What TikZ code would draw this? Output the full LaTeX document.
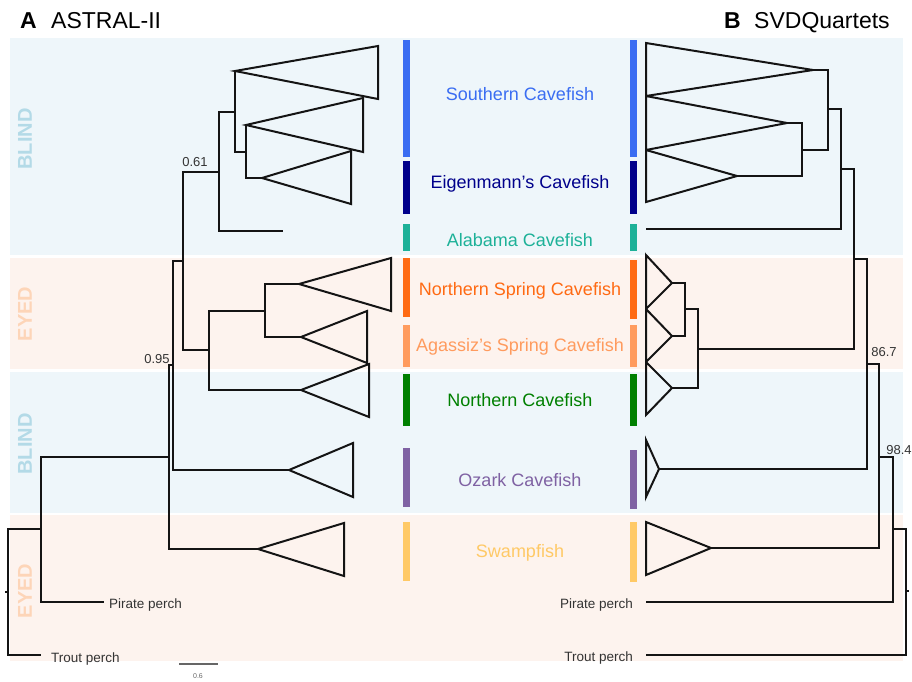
\documentclass[tikz,border=0pt]{standalone}
\usepackage{fontspec}
\setmainfont{Liberation Sans}
\definecolor{bandblue}{HTML}{EEF6FA}
\definecolor{bandpeach}{HTML}{FDF3EE}
\definecolor{blindc}{HTML}{B3DAE7}
\definecolor{eyedc}{HTML}{FDD5B8}
\definecolor{csouth}{HTML}{3A6DF2}
\definecolor{ceigen}{HTML}{00008B}
\definecolor{cala}{HTML}{1DB198}
\definecolor{cns}{HTML}{FF6A13}
\definecolor{cagas}{HTML}{FF9B5E}
\definecolor{cnorth}{HTML}{008000}
\definecolor{cozark}{HTML}{7F62A3}
\definecolor{cswamp}{HTML}{FFC966}
\definecolor{txtgray}{HTML}{333333}
\begin{document}
\begin{tikzpicture}[x=1pt,y=-1pt,
  tree/.style={line width=2pt, draw=black!92, line join=miter},
  sidelab/.style={rotate=90, font=\fontsize{20}{22}\selectfont\bfseries, inner sep=0pt},
  cladelab/.style={font=\fontsize{18}{20}\selectfont, inner sep=0pt},
  taxlab/.style={font=\fontsize{13.5}{15}\selectfont, text=txtgray, inner sep=0pt},
  supp/.style={font=\fontsize{13}{15}\selectfont, text=txtgray, inner sep=0pt},
  titlelab/.style={font=\fontsize{23}{26}\selectfont, inner sep=0pt, anchor=base west}]
\path[use as bounding box] (0,0) rectangle (912,681);
% background bands
\fill[bandblue] (10,38) rectangle (903,255);
\fill[bandpeach] (10,258) rectangle (903,369);
\fill[bandblue] (10,372) rectangle (903,513);
\fill[bandpeach] (10,515) rectangle (903,661);
% side labels
\node[sidelab, text=blindc] (sl1) at (25,139) {BLIND};
\node[sidelab, text=eyedc] (sl2) at (25,314) {EYED};
\node[sidelab, text=blindc] (sl3) at (25,444) {BLIND};
\node[sidelab, text=eyedc] (sl4) at (25,591) {EYED};
% titles
\node[titlelab, font=\fontsize{23}{26}\selectfont\bfseries] (tA) at (20,28) {A};
\node[titlelab] (tAn) at (51,28) {ASTRAL-II};
\node[titlelab, font=\fontsize{23}{26}\selectfont\bfseries] (tB) at (724,28) {B};
\node[titlelab] (tBn) at (754,28) {SVDQuartets};
% colour bars
\foreach \ya/\yb/\yc/\yd/\col in {40/157/40/157/csouth, 161/214/161/214/ceigen, 224/251/224/251/cala, 258/317/260/319/cns, 325/367/325/367/cagas, 374/426/374/426/cnorth, 448/507/450/509/cozark, 522/581/522/582/cswamp}{
  \fill[\col] (403,\ya) rectangle (410,\yb);
  \fill[\col] (630,\yc) rectangle (637,\yd);
}
% clade labels
\node[cladelab, text=csouth] (c1) at (520,94.5) {Southern Cavefish};
\node[cladelab, text=ceigen] (c2) at (520,183.5) {Eigenmann’s Cavefish};
\node[cladelab, text=cala] (c3) at (520,240.5) {Alabama Cavefish};
\node[cladelab, text=cns] (c4) at (520,290.5) {Northern Spring Cavefish};
\node[cladelab, text=cagas] (c5) at (520,346.5) {Agassiz’s Spring Cavefish};
\node[cladelab, text=cnorth] (c6) at (520,400) {Northern Cavefish};
\node[cladelab, text=cozark] (c7) at (520,480) {Ozark Cavefish};
\node[cladelab, text=cswamp] (c8) at (520,552.5) {Swampfish};

% ---------- left tree (ASTRAL-II) ----------
\coordinate (LT1) at (235,71);
\coordinate (LT2) at (246,125);
\coordinate (LT3) at (262,178);
\coordinate (LAla) at (283,231);
\coordinate (LNS) at (299,284);
\coordinate (LAg) at (301,337);
\coordinate (LNo) at (301,390);
\coordinate (LOz) at (289,470);
\coordinate (LSw) at (258,549);
\coordinate (LPir) at (104,602);
\coordinate (LTro) at (41,655);
\coordinate (a23) at (246,152);
\coordinate (a123) at (235,112);
\coordinate (aS) at (219,172);
\coordinate (aNS) at (265,311);
\coordinate (aN) at (209,350);
\coordinate (aX) at (183,261);
\coordinate (aY) at (173,365);
\coordinate (aZ) at (169,457);
\coordinate (aW) at (41,529);
\coordinate (aR) at (8,592);
\draw[tree] (LT1) -- (378,46) -- (378,99) -- cycle;
\draw[tree] (LT2) -- (363,98) -- (363,152) -- cycle;
\draw[tree] (LT3) -- (351,151) -- (351,204) -- cycle;
\draw[tree] (LNS) -- (391,258) -- (391,311) -- cycle;
\draw[tree] (LAg) -- (367,311) -- (367,363) -- cycle;
\draw[tree] (LNo) -- (369,364) -- (369,417) -- cycle;
\draw[tree] (LOz) -- (353,443) -- (353,497) -- cycle;
\draw[tree] (LSw) -- (344,523) -- (344,576) -- cycle;
\draw[tree] (LT2) -| (a23) |- (LT3);
\draw[tree] (LT1) -| (a123) |- (a23);
\draw[tree] (a123) -| (aS) |- (LAla);
\draw[tree] (LNS) -| (aNS) |- (LAg);
\draw[tree] (aNS) -| (aN) |- (LNo);
\draw[tree] (aS) -| (aX) |- (aN);
\draw[tree] (aX) -| (aY) |- (LOz);
\draw[tree] (aY) -| (aZ) |- (LSw);
\draw[tree] (aZ) -| (aW) |- (LPir);
\draw[tree] (aW) -| (aR) |- (LTro);
\draw[tree] (aR) -- ++(-3,0);
\node[supp] (s061) at (195,162) {0.61};
\node[supp] (s095) at (157,359) {0.95};
\node[taxlab, anchor=west] (lpp) at (109,605) {Pirate perch};
\node[taxlab, anchor=west] (ltp) at (51,659) {Trout perch};
% scale bar
\coordinate (sb1) at (179,664);
\coordinate (sb2) at (218,664);
\draw[line width=1.2pt, draw=black!60] (sb1) -- (sb2);
\node[font=\fontsize{7}{8}\selectfont, text=black!60, inner sep=0pt] (sbl) at (198,676) {0.6};

% ---------- right tree (SVDQuartets) ----------
\coordinate (RT1) at (813,70);
\coordinate (RT2) at (787,123);
\coordinate (RT3) at (737,176);
\coordinate (RAla) at (646,229);
\coordinate (RNS) at (672,283);
\coordinate (RAg) at (672,336);
\coordinate (RNo) at (672,388);
\coordinate (ROz) at (659,469);
\coordinate (RSw) at (711,548);
\coordinate (RPir) at (646,602);
\coordinate (RTro) at (646,655);
\coordinate (b23) at (802,150);
\coordinate (b123) at (828,109);
\coordinate (bS) at (841,169);
\coordinate (bNS) at (685,309);
\coordinate (bN) at (698,349);
\coordinate (bX) at (854,259);
\coordinate (bY) at (867,364);
\coordinate (bZ) at (879,457);
\coordinate (bW) at (893,529);
\coordinate (bR) at (906,591);
\draw[tree] (RT1) -- (646,43) -- (646,96) -- cycle;
\draw[tree] (RT2) -- (646,96) -- (646,150) -- cycle;
\draw[tree] (RT3) -- (646,150) -- (646,202) -- cycle;
\draw[tree] (RNS) -- (646,255) -- (646,309) -- cycle;
\draw[tree] (RAg) -- (646,309) -- (646,362) -- cycle;
\draw[tree] (RNo) -- (646,362) -- (646,415) -- cycle;
\draw[tree] (ROz) -- (646,440) -- (646,497) -- cycle;
\draw[tree] (RSw) -- (646,522) -- (646,575) -- cycle;
\draw[tree] (RT2) -| (b23) |- (RT3);
\draw[tree] (RT1) -| (b123) |- (b23);
\draw[tree] (b123) -| (bS) |- (RAla);
\draw[tree] (RNS) -| (bNS) |- (RAg);
\draw[tree] (bNS) -| (bN) |- (RNo);
\draw[tree] (bS) -| (bX) |- (bN);
\draw[tree] (bX) -| (bY) |- (ROz);
\draw[tree] (bY) -| (bZ) |- (RSw);
\draw[tree] (bZ) -| (bW) |- (RPir);
\draw[tree] (bW) -| (bR) |- (RTro);
\draw[tree] (bR) -- ++(3,0);
\node[supp] (s867) at (884,352) {86.7};
\node[supp] (s984) at (899,450) {98.4};
\node[taxlab, anchor=east] (rpp) at (633,605) {Pirate perch};
\node[taxlab, anchor=east] (rtp) at (633,658) {Trout perch};
\end{tikzpicture}
\end{document}
